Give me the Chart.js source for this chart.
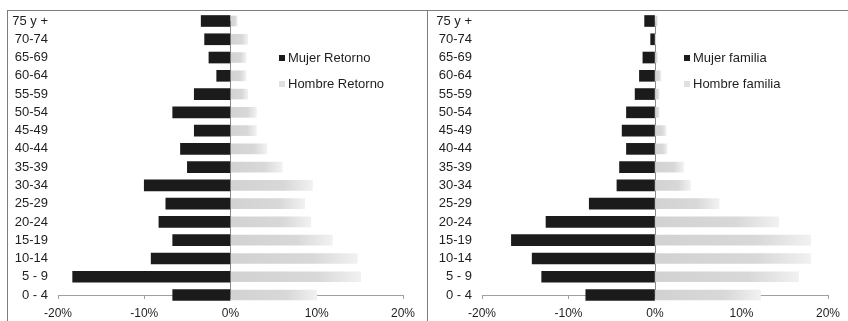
<!DOCTYPE html>
<html>
<head>
<meta charset="utf-8">
<script src="https://cdn.jsdelivr.net/npm/chart.js@4.4.1/dist/chart.umd.min.js"></script>
<style>
  html, body { margin: 0; padding: 0; background: #fff; width: 848px; height: 321px; overflow: hidden; }
  .panel { position: absolute; top: 10px; height: 330px; border: 1px solid #7c7c7c; border-bottom: none; box-sizing: border-box; }
  #panelLeft { left: 7px; width: 421px; }
  #panelRight { left: 427px; width: 440px; border-right: none; }
  canvas { position: absolute; top: 0; }
  #chartLeft { left: 0; }
  #chartRight { left: 427px; }
</style>
</head>
<body>
<div class="panel" id="panelLeft"></div>
<div class="panel" id="panelRight"></div>
<canvas id="chartLeft" width="427" height="321"></canvas>
<canvas id="chartRight" width="421" height="321"></canvas>
<script>
// Age groups, oldest at the top
const ageGroups = ['75 y +', '70-74', '65-69', '60-64', '55-59', '50-54', '45-49', '40-44',
                   '35-39', '30-34', '25-29', '20-24', '15-19', '10-14', '5 - 9', '0 - 4'];

// Share of each group (%); women to the left (negative), men to the right
const mujerRetorno  = [-3.4, -3.0, -2.5, -1.6, -4.2, -6.7, -4.2, -5.8, -5.0, -10.0, -7.5, -8.3, -6.7, -9.2, -18.3, -6.7];
const hombreRetorno = [0.8, 2.0, 1.8, 1.8, 2.0, 3.0, 3.0, 4.2, 6.0, 9.5, 8.6, 9.3, 11.8, 14.7, 15.1, 10.0];

const mujerFamilia  = [-1.2, -0.5, -1.4, -1.8, -2.3, -3.3, -3.8, -3.3, -4.1, -4.4, -7.6, -12.6, -16.6, -14.2, -13.1, -8.0];
const hombreFamilia = [0.3, 0.1, 0.3, 0.7, 0.5, 0.5, 1.3, 1.4, 3.3, 4.1, 7.4, 14.3, 18.0, 18.0, 16.6, 12.2];

// Axis range and step (%)
const axisMin = -20, axisMax = 20, axisStep = 10;

const FONT = '"Liberation Sans", Arial, sans-serif';
const TEXT = '#1e1e1e';

// Light grey fill that fades out towards the end of each men's bar
function softGrey(ctx) {
  const chart = ctx.chart;
  if (!chart.chartArea || ctx.type !== 'data' || !chart.scales.x) return '#d8d8d8';
  const xs = chart.scales.x;
  const x0 = xs.getPixelForValue(0);
  const x1 = xs.getPixelForValue(ctx.raw);
  if (x1 - x0 < 2) return '#e2e2e2';
  const g = chart.ctx.createLinearGradient(x0, 0, x1, 0);
  g.addColorStop(0, '#d2d2d2');
  g.addColorStop(0.65, '#d8d8d8');
  g.addColorStop(1, '#f1f1f1');
  return g;
}

// Legend drawn inside the plot, to the right of the centre line
const insideLegend = {
  id: 'insideLegend',
  afterDraw(chart, args, opts) {
    const ctx = chart.ctx;
    ctx.save();
    ctx.font = '13px ' + FONT;
    ctx.textBaseline = 'middle';
    ctx.textAlign = 'left';
    chart.data.datasets.forEach((ds, i) => {
      const y = opts.y + i * opts.gap;
      ctx.fillStyle = ds.legendColor;
      ctx.fillRect(opts.x - 9, y - 3, 6, 6);
      ctx.fillStyle = TEXT;
      ctx.fillText(ds.label, opts.x, y);
    });
    ctx.restore();
  }
};

function pyramid(canvasId, women, men, womenLabel, menLabel, yAxisWidth, padRight, legendX) {
  return new Chart(document.getElementById(canvasId), {
    type: 'bar',
    data: {
      labels: ageGroups,
      datasets: [
        { label: womenLabel, data: women, backgroundColor: '#1b1b1b', legendColor: '#1b1b1b',
          barThickness: 11, clip: false },
        { label: menLabel, data: men, backgroundColor: softGrey, legendColor: '#e0e0e0',
          barThickness: 10, clip: false }
      ]
    },
    options: {
      indexAxis: 'y',
      responsive: false,
      animation: false,
      layout: { padding: { top: 21, right: padRight, bottom: 0, left: 0 } },
      plugins: {
        legend: { display: false },
        tooltip: { enabled: false },
        insideLegend: { x: legendX, y: 58, gap: 26 }
      },
      scales: {
        x: {
          type: 'linear',
          min: axisMin, max: axisMax,
          stacked: true,
          afterFit: s => { s.height = 26; },
          ticks: {
            stepSize: axisStep,
            callback: v => v + '%',
            font: { family: FONT, size: 12 },
            color: TEXT,
            padding: 7
          },
          grid: {
            color: c => (c.tick && c.tick.value === 0) ? '#8a8a8a' : 'rgba(0,0,0,0)',
            tickColor: '#a0a0a0',
            tickLength: 4,
            lineWidth: 1
          },
          border: { display: true, color: '#a0a0a0' }
        },
        y: {
          type: 'category',
          offset: false,
          stacked: true,
          afterFit: s => { s.width = yAxisWidth; },
          ticks: {
            autoSkip: false,
            font: { family: FONT, size: 13 },
            color: TEXT,
            padding: 10
          },
          grid: { display: false, drawTicks: false },
          border: { display: false }
        }
      }
    },
    plugins: [insideLegend]
  });
}

pyramid('chartLeft', mujerRetorno, hombreRetorno, 'Mujer Retorno', 'Hombre Retorno', 58, 24, 288);
pyramid('chartRight', mujerFamilia, hombreFamilia, 'Mujer familia', 'Hombre familia', 55, 20, 266);
</script>
</body>
</html>
